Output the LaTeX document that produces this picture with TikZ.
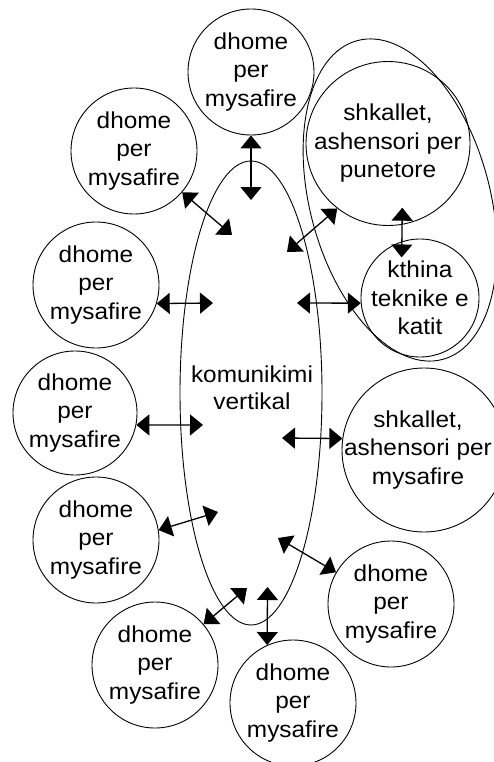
\documentclass[tikz,border=0pt]{standalone}
\usepackage{fontspec}
\setmainfont{Liberation Sans}[FakeStretch=1.06]
\usetikzlibrary{arrows.meta,shapes.geometric}
\begin{document}
\begin{tikzpicture}[x=1pt,y=-1pt,
  room/.style={draw, circle, line width=0.9pt, inner sep=0pt},
  txt/.style={align=center, inner sep=0pt, font=\fontsize{23}{28.5}\selectfont},
  arr/.style={line width=1.3pt, {Triangle[length=13pt,width=21pt]}-{Triangle[length=13pt,width=21pt]}}]
\useasboundingbox (0,0) rectangle (493,762);
% central ellipse
\node[draw, ellipse, line width=0.9pt, minimum width=142pt, minimum height=464pt, inner sep=0pt] (E) at (251,393) {};
\node[txt, font=\fontsize{23}{27}\selectfont] (V) at (252,388) {komunikimi\\vertikal};
% tilted ellipse around service block
\node[draw, ellipse, line width=0.9pt, minimum width=330pt, minimum height=180pt, inner sep=0pt, rotate=-75] (G) at (400,200) {};
% circles
\node[room, minimum size=126pt, label={[txt]center:{dhome\\per\\mysafire}}] (T)  at (251,72)  {};
\node[room, minimum size=126pt, label={[txt]center:{dhome\\per\\mysafire}}] (UL) at (134,151) {};
\node[room, minimum size=126pt, label={[txt]center:{dhome\\per\\mysafire}}] (L2) at (96,285)  {};
\node[room, minimum size=124pt, label={[txt]center:{dhome\\per\\mysafire}}] (L3) at (75,413)  {};
\node[room, minimum size=126pt, label={[txt]center:{dhome\\per\\mysafire}}] (L4) at (96,540)  {};
\node[room, minimum size=126pt, label={[txt]center:{dhome\\per\\mysafire}}] (BL) at (155,665) {};
\node[room, minimum size=126pt, label={[txt]center:{dhome\\per\\mysafire}}] (BC) at (293,703) {};
\node[room, minimum size=126pt, label={[txt]center:{dhome\\per\\mysafire}}] (RL) at (391,604) {};
\node[room, minimum size=164pt, label={[txt, xshift=-6pt]center:{shkallet,\\ashensori per\\mysafire}}] (RM) at (424,450) {};
\node[room, minimum size=164pt, label={[txt]center:{shkallet,\\ashensori per\\punetore}}] (P)  at (388,143.5) {};
\node[room, minimum size=118pt, label={[txt]center:{kthina\\teknike e\\katit}}] (K)  at (420,298) {};
% inner ends
\coordinate (c1) at (251,200);
\coordinate (c2) at (232,235);
\coordinate (c3) at (287,252);
\coordinate (c5) at (213,303);
\coordinate (c6) at (297,303);
\coordinate (c7) at (203,425);
\coordinate (c8) at (282,438);
\coordinate (c9) at (218,512);
\coordinate (c10) at (278,538);
\coordinate (c11) at (247,588);
\coordinate (c12) at (267.5,587);
% arrows
\draw[arr] (T) -- (c1);
\draw[arr] (UL) -- (c2);
\draw[arr] (P.232) -- (c3);
\draw[arr] ([yshift=17pt]P.-80) -- ([yshift=-16pt]K.108);
\draw[arr] (L2.-17) -- (c5);
\draw[arr] (K.185) -- (c6);
\draw[arr] (L3.-11) -- (c7);
\draw[arr] (RM.172) -- (c8);
\draw[arr] (L4.9) -- (c9);
\draw[arr] (RL.150) -- (c10);
\draw[arr] (BL.40) -- (c11);
\draw[arr] (BC.114) -- (c12);
\end{tikzpicture}
\end{document}
